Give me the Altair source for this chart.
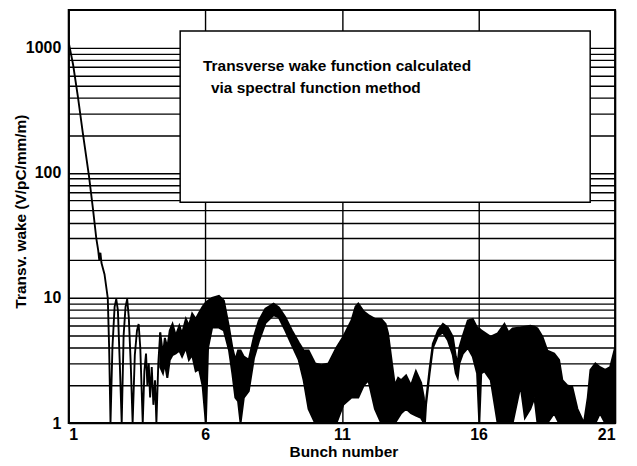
import altair as alt
import pandas as pd

# ---- data ----
# initial decay and the first, well separated oscillations (single trace)
trace_x = [1.00, 1.16, 1.34, 1.52, 1.74, 1.89, 2.01, 2.08, 2.12, 2.16, 2.20, 2.31, 2.43, 2.48,
           2.53, 2.60, 2.68, 2.74, 2.80, 2.87, 2.94, 3.01, 3.08, 3.14, 3.20, 3.27, 3.34, 3.42,
           3.50, 3.56, 3.62, 3.71, 3.77, 3.83, 3.88, 3.93, 3.98, 4.04, 4.10, 4.16, 4.21, 4.28, 4.35]
trace_y = [1100, 735, 402, 206, 95, 51, 30, 24, 20, 23, 19, 15.5, 10, 4,
           1.0, 4, 8.5, 9.8, 8, 3, 1.0, 5, 8.5, 9.8, 7, 3, 1.0, 3.5,
           5.5, 6.2, 4, 1.0, 2.6, 3.6, 2.0, 3.0, 1.6, 2.8, 1.4, 2.2, 1.0, 3.0, 5.3]

# dense, fast oscillating part: lower and upper envelope
band_x = [4.35, 4.45, 4.52, 4.61, 4.70, 4.80, 4.92, 5.05, 5.15, 5.29, 5.40, 5.52, 5.65, 5.77,
          5.90, 6.02, 6.10, 6.25, 6.50, 6.68, 6.87,
          6.99, 7.10, 7.20, 7.29, 7.41, 7.59, 7.78, 7.96, 8.20, 8.50, 8.69, 8.93, 9.17, 9.42,
          9.60, 9.78, 10.02, 10.25, 10.51, 10.80, 11.05, 11.35, 11.50, 11.60, 11.80, 11.97,
          12.21, 12.44, 12.60, 12.69, 12.85, 12.94, 13.06, 13.17, 13.35, 13.53, 13.71, 13.90,
          14.00, 14.04, 14.08, 14.21, 14.33, 14.52, 14.70, 14.88, 15.06, 15.17, 15.24, 15.30,
          15.43, 15.61, 15.79, 15.95, 16.03, 16.10, 16.22, 16.45, 16.70, 16.95, 17.10, 17.25,
          17.54, 17.70, 17.90, 18.05, 18.16, 18.34, 18.52, 18.77, 18.95, 19.07, 19.25, 19.43,
          19.62, 19.86, 20.00, 20.10, 20.28, 20.45, 20.64, 20.82, 21.00]
band_hi = [5.3, 3.5, 4.8, 4.0, 5.5, 6.2, 5.0, 6.0, 5.2, 6.8, 6.0, 7.5, 6.8, 7.6,
           8.5, 9.2, 9.5, 10.0, 10.4, 9.5, 5.8,
           4.0, 3.2, 3.8, 3.8, 3.4, 3.2, 4.9, 6.6, 8.2, 9.0, 8.4, 7.0, 5.5, 4.4,
           3.8, 3.8, 3.0, 2.9, 3.0, 4.0, 4.9, 6.6, 8.5, 9.0, 7.8, 7.3,
           6.8, 6.8, 6.2, 5.2, 2.8, 2.0, 2.3, 2.2, 2.4, 2.0, 2.6, 2.1,
           1.6, 1.0, 1.5, 2.7, 4.3, 5.5, 6.2, 5.8, 4.9, 3.4, 3.0, 4.0,
           5.0, 6.6, 6.8, 5.8, 5.7, 5.5, 5.3, 4.9, 5.2, 6.2, 5.3, 5.7,
           5.8, 5.9, 6.0, 5.9, 5.7, 4.9, 3.8, 3.6, 3.2, 2.2, 2.0, 1.96,
           1.3, 1.0, 1.6, 2.66, 3.0, 2.8, 2.66, 2.8, 4.0]
band_lo = [2.8, 2.5, 3.0, 2.3, 3.2, 3.5, 3.6, 3.8, 3.4, 4.0, 3.2, 3.5, 2.6, 2.7,
           2.0, 1.0, 4.0, 5.8, 5.8, 5.5, 3.8,
           2.5, 1.6, 1.5, 1.0, 1.6, 1.8, 3.3, 4.5, 6.3, 7.3, 7.0, 5.5, 4.2, 3.2,
           2.2, 1.3, 1.0, 1.0, 1.0, 1.0, 1.4, 1.6, 1.6, 1.6, 2.0, 2.2,
           1.3, 1.0, 1.0, 1.0, 1.0, 1.0, 1.1, 1.2, 1.3, 1.2, 1.15, 1.1,
           1.0, 1.0, 1.4, 2.5, 4.0, 5.0, 5.3, 4.6, 3.5, 2.5, 2.3, 3.0,
           3.6, 4.0, 3.4, 2.5, 1.0, 2.5, 2.6, 2.2, 1.0, 1.0, 1.0, 1.0,
           2.0, 1.1, 1.3, 1.6, 1.0, 1.0, 1.0, 1.2, 1.0, 1.0, 1.0, 1.0,
           1.0, 1.0, 1.0, 1.0, 1.0, 1.2, 1.0, 1.0, 1.0]

x_ticks = [1, 6, 11, 16, 21]
y_grid = [1, 2, 3, 4, 5, 6, 7, 8, 9,
          10, 20, 30, 40, 50, 60, 70, 80, 90,
          100, 200, 300, 400, 500, 600, 700, 800, 900, 1000]
y_labels = [1, 10, 100, 1000]
note_lines = ["Transverse wake function calculated", "via spectral function method"]

FONT = "Liberation Sans"

trace = pd.DataFrame({"bunch": trace_x, "wake": trace_y})
band = pd.DataFrame({"bunch": band_x, "lo": band_lo, "hi": band_hi})
box = pd.DataFrame({"k": [0]})
note1 = pd.DataFrame({"t": [note_lines[0]]})
note2 = pd.DataFrame({"t": [note_lines[1]]})

xs = alt.Scale(domain=[1, 21], nice=False, zero=False)
ys = alt.Scale(type="log", domain=[1, 2000], nice=False)

label_expr = "indexof(" + str(y_labels) + ", datum.value) >= 0 ? format(datum.value, 'd') : ''"

xaxis = alt.Axis(values=x_ticks, title="Bunch number", grid=True, ticks=False, domain=False,
                 labelFontSize=16, labelFont=FONT, labelFontWeight="bold", labelPadding=3,
                 labelColor="black",
                 titleFont=FONT, titleFontSize=15.5, titleFontWeight="bold", titleColor="black",
                 titleX=276, titleY=34, titleBaseline="alphabetic", titleAlign="center")
yaxis = alt.Axis(values=y_grid, labelExpr=label_expr, title="Transv. wake (V/pC/mm/m)",
                 grid=True, ticks=False, domain=False,
                 labelFontSize=16, labelFont=FONT, labelFontWeight="bold", labelPadding=8,
                 labelColor="black",
                 titleFont=FONT, titleFontSize=15.5, titleFontWeight="bold", titleColor="black",
                 titleX=-48, titleY=202, titleAngle=270, titleBaseline="middle", titleAlign="center")

area = alt.Chart(band).mark_area(color="black", stroke="black", strokeWidth=2, clip=True).encode(
    x=alt.X("bunch:Q", scale=xs, axis=xaxis),
    y=alt.Y("hi:Q", scale=ys, axis=yaxis),
    y2="lo:Q",
)
line = alt.Chart(trace).mark_line(color="black", strokeWidth=1.9, clip=True).encode(
    x=alt.X("bunch:Q", scale=xs, axis=xaxis),
    y=alt.Y("wake:Q", scale=ys, axis=yaxis),
)
rect = alt.Chart(box).mark_rect(fill="white", stroke="black", strokeWidth=1.5).encode(
    x=alt.value(112), x2=alt.value(524), y=alt.value(21), y2=alt.value(193)
)
t1 = alt.Chart(note1).mark_text(align="left", baseline="alphabetic", font=FONT, fontWeight="bold",
                                fontSize=15.5, color="black").encode(
    x=alt.value(135), y=alt.value(61), text="t:N")
t2 = alt.Chart(note2).mark_text(align="left", baseline="alphabetic", font=FONT, fontWeight="bold",
                                fontSize=15.5, color="black").encode(
    x=alt.value(143), y=alt.value(83), text="t:N")

chart = alt.layer(area, line, rect, t1, t2).properties(
    width=549, height=415,
    autosize=alt.AutoSizeParams(type="none"),
    padding={"left": 61, "top": 1, "right": 14, "bottom": 42},
).configure_view(stroke="black", strokeWidth=2).configure_axis(
    gridColor="black", gridWidth=1.4, gridOpacity=1
)

chart.save("out.html", embed_options={"renderer": "svg", "actions": False})
